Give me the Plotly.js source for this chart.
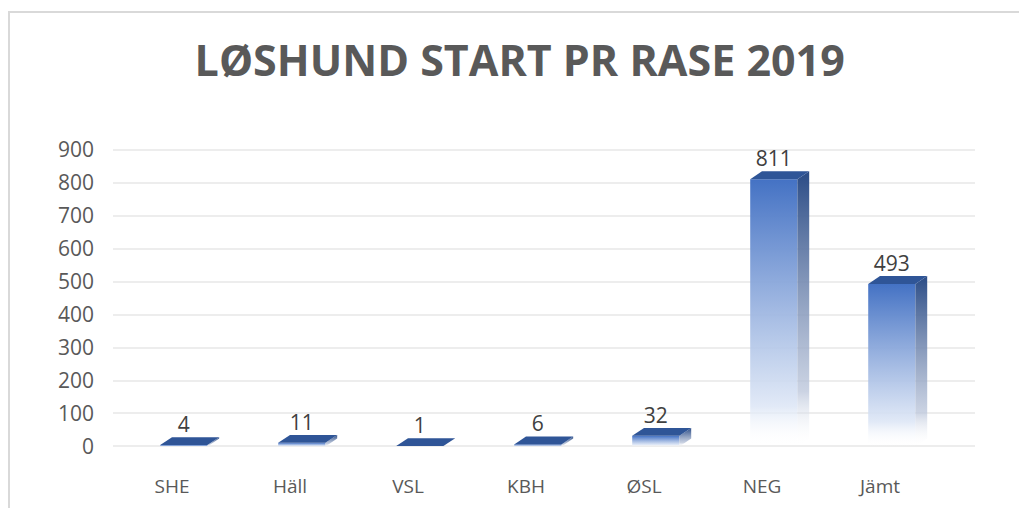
<!DOCTYPE html>
<html>
<head>
<meta charset="utf-8">
<script src="https://cdn.plot.ly/plotly-3.0.1.min.js"></script>
<style>
html,body{margin:0;padding:0;background:#fff;}
#chart{width:1019px;height:508px;}
#frame{position:absolute;left:8px;top:11px;width:1100px;height:600px;border-left:2px solid #d9d9d9;border-top:2px solid #d9d9d9;pointer-events:none;}
</style>
</head>
<body>
<div id="chart"></div>
<div id="frame"></div>
<script>
// ---- data ----
const categories = ["SHE", "Häll", "VSL", "KBH", "ØSL", "NEG", "Jämt"];
const starts = [4, 11, 1, 6, 32, 811, 493];
const yTicks = [0, 100, 200, 300, 400, 500, 600, 700, 800, 900];
const chartTitle = "LØSHUND START PR RASE 2019";

// ---- style constants (pseudo-3D geometry in axis units) ----
const FRONT_L = -0.10, FRONT_R = 0.30, DEPTH_X = 0.10, DEPTH_Y = 24;
const FONT = "'Open Sans', 'Liberation Sans', sans-serif";

const traces = [];
categories.forEach((c, i) => {
  const v = starts[i];
  const x0 = i + FRONT_L, x1 = i + FRONT_R;
  // front face
  traces.push({
    type: "scatter", mode: "lines", name: c,
    x: [x0, x1, x1, x0, x0], y: [0, 0, v, v, 0],
    fill: "toself", line: {width: 0, color: "#4472c4"},
    fillgradient: {type: "vertical", colorscale: [[0, "rgba(255,255,255,0)"], [0.15, "rgba(222,231,246,0.9)"], [1, "#4472c4"]]},
    hoverinfo: "skip", showlegend: false
  });
  // side face
  traces.push({
    type: "scatter", mode: "lines",
    x: [x1, x1 + DEPTH_X, x1 + DEPTH_X, x1, x1], y: [0, DEPTH_Y, v + DEPTH_Y, v, 0],
    fill: "toself", line: {width: 0, color: "#2f528f"},
    fillgradient: {type: "vertical", colorscale: [[0, "rgba(255,255,255,0)"], [0.2, "rgba(190,200,220,0.8)"], [1, "#2b4c86"]]},
    hoverinfo: "skip", showlegend: false
  });
  // top face
  traces.push({
    type: "scatter", mode: "lines",
    x: [x0, x1, x1 + DEPTH_X, x0 + DEPTH_X, x0], y: [v, v, v + DEPTH_Y, v + DEPTH_Y, v],
    fill: "toself", fillcolor: "#2f5597", line: {width: 0, color: "#2f5597"},
    hoverinfo: "skip", showlegend: false
  });
});
// data labels
traces.push({
  type: "scatter", mode: "text",
  x: categories.map((c, i) => i + (FRONT_L + FRONT_R) / 2),
  y: starts.map(v => v + DEPTH_Y),
  text: starts.map(String), textposition: "top center",
  textfont: {family: FONT, size: 21, color: "#404040"},
  hoverinfo: "skip", showlegend: false, cliponaxis: false
});

const layout = {
  width: 1019, height: 508,
  margin: {l: 113, r: 44, t: 140, b: 55},
  paper_bgcolor: "#fff", plot_bgcolor: "#fff",
  showlegend: false,
  title: {text: "<b>" + chartTitle + "</b>", x: 0.51, xref: "container", xanchor: "center", y: 0.88, yanchor: "middle",
          font: {family: FONT, size: 43, color: "#595959"}},
  xaxis: {
    range: [-0.5, 6.805], tickvals: categories.map((c, i) => i), ticktext: categories,
    showgrid: false, zeroline: false, showline: false, ticks: "",
    tickfont: {family: FONT, size: 19, color: "#595959"}, ticklabelstandoff: 20
  },
  yaxis: {
    range: [-20, 930], tickvals: yTicks, ticktext: yTicks.map(String),
    showgrid: true, gridcolor: "#ededed", gridwidth: 2, zeroline: false, showline: false,
    tickfont: {family: FONT, size: 21, color: "#595959"}, ticklabelstandoff: 18
  }
};
Plotly.newPlot("chart", traces, layout, {displayModeBar: false, staticPlot: true});
</script>
</body>
</html>
